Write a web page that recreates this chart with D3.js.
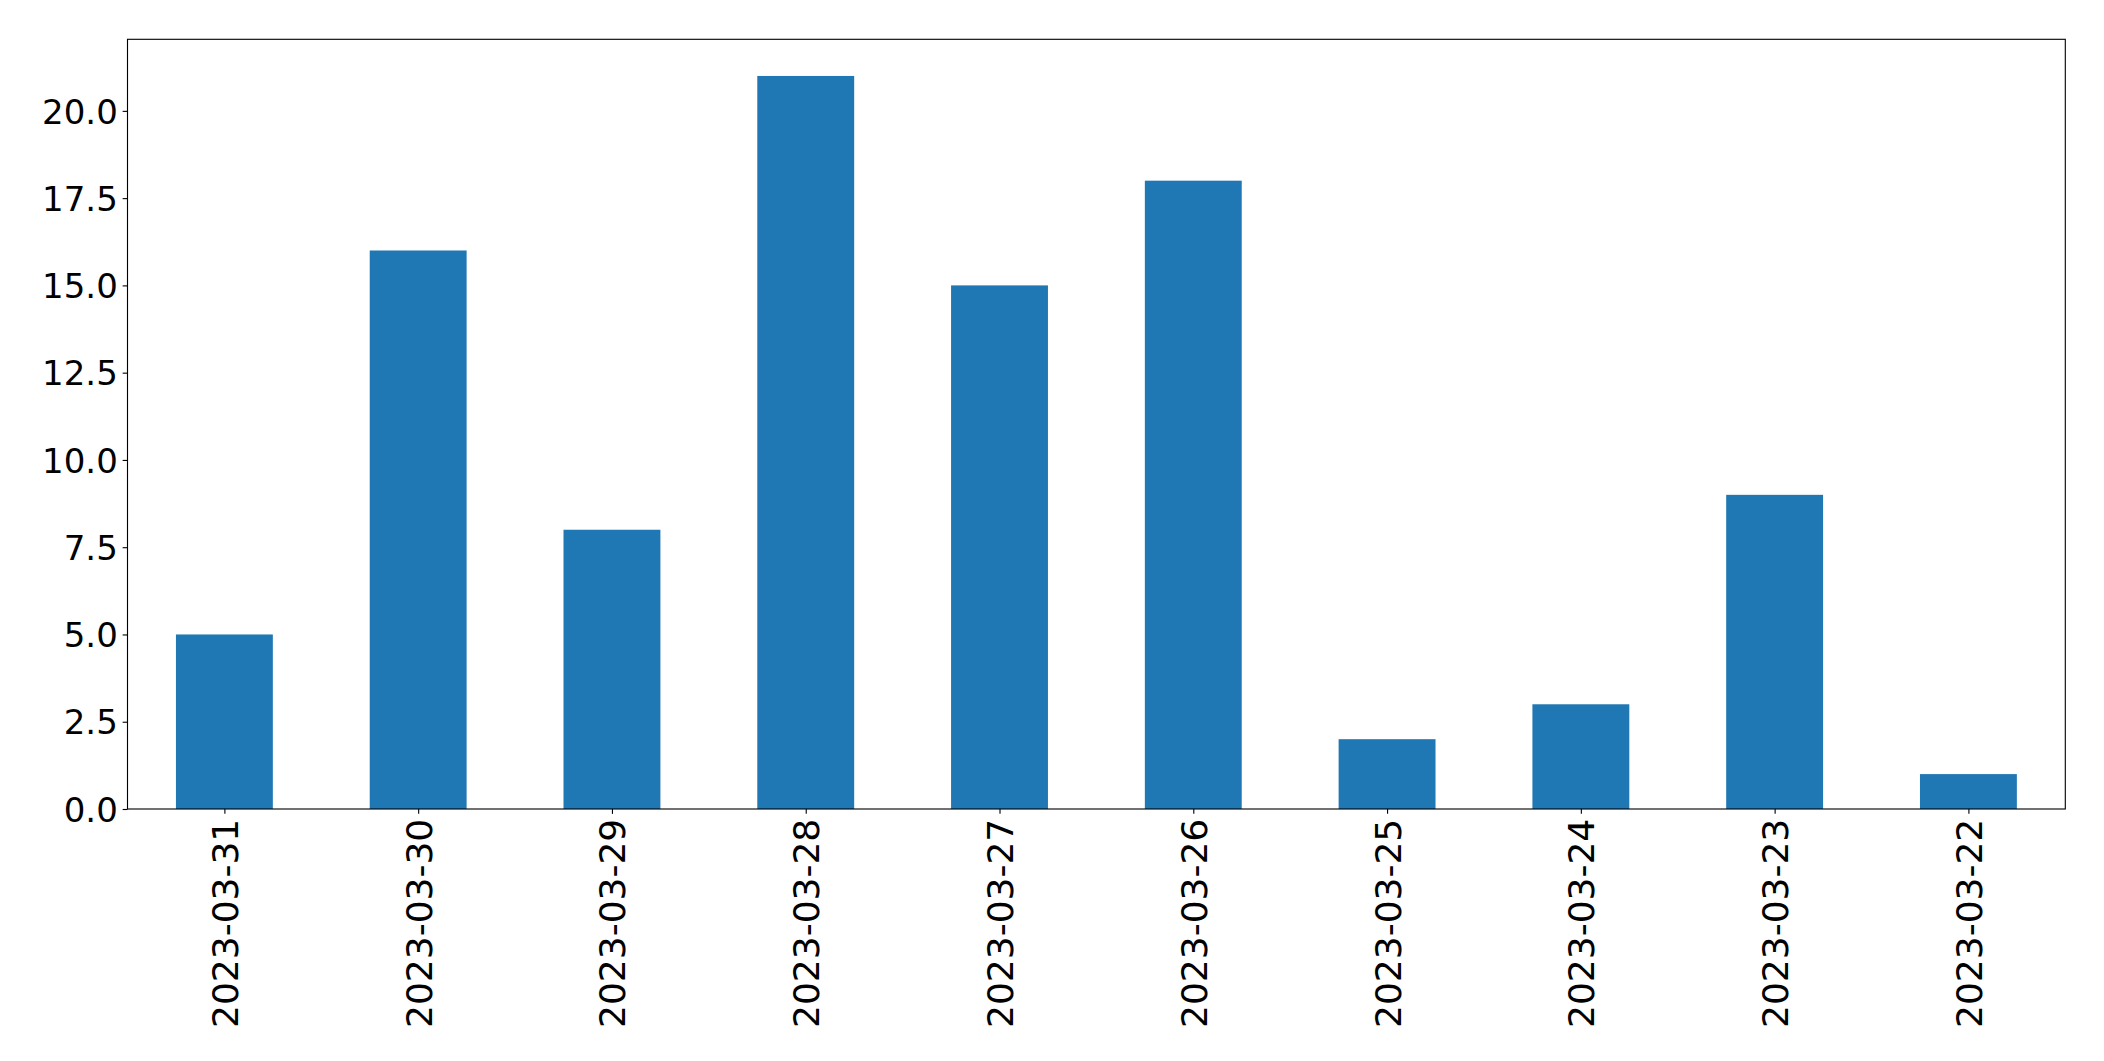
<!DOCTYPE html>
<html>
<head>
<meta charset="utf-8">
<script src="https://cdn.jsdelivr.net/npm/d3@7"></script>
<style>
  html, body { margin: 0; padding: 0; background: #fff; }
  svg { display: block; }
  text { font-family: "DejaVu Sans", sans-serif; fill: #000; }
</style>
</head>
<body>
<script>
const categories = ["2023-03-31","2023-03-30","2023-03-29","2023-03-28","2023-03-27","2023-03-26","2023-03-25","2023-03-24","2023-03-23","2023-03-22"];
const values = [5, 16, 8, 21, 15, 18, 2, 3, 9, 1];
const yTicks = [0, 2.5, 5, 7.5, 10, 12.5, 15, 17.5, 20];

(function () {
const W = 2104, H = 1061;
const mLeft = 127.5, mRight = 2065.3, mTop = 39.3, mBottom = 809;
const yFontPx = 34, xFontPx = 36, tickLen = 4.86, pad = 4.86;

const svg = d3.select("body").append("svg").attr("width", W).attr("height", H);

const x = d3.scaleLinear().domain([-0.5, categories.length - 0.5]).range([mLeft, mRight]);
const y = d3.scaleLinear().domain([0, d3.max(values) * 1.05]).range([mBottom, mTop]);

// bars
svg.append("g").selectAll("rect").data(values).join("rect")
  .attr("x", (d, i) => x(i - 0.25))
  .attr("width", (d, i) => x(i + 0.25) - x(i - 0.25))
  .attr("y", d => y(d))
  .attr("height", d => y(0) - y(d))
  .attr("fill", "#1f77b4");

// y axis
const yAxis = d3.axisLeft(y).tickValues(yTicks).tickFormat(d3.format(".1f"))
  .tickSize(tickLen).tickPadding(pad);
const gy = svg.append("g").attr("transform", `translate(${mLeft},0)`).call(yAxis);
gy.select(".domain").remove();
gy.selectAll(".tick line").attr("stroke", "#000").attr("stroke-width", 1.11);
gy.selectAll(".tick text").style("font-size", yFontPx + "px").attr("dy", "0.36em");

// x axis
const xAxis = d3.axisBottom(x).tickValues(d3.range(categories.length))
  .tickFormat(i => categories[i]).tickSize(tickLen).tickPadding(pad);
const gx = svg.append("g").attr("transform", `translate(0,${mBottom})`).call(xAxis);
gx.select(".domain").remove();
gx.selectAll(".tick line").attr("stroke", "#000").attr("stroke-width", 1.11);
gx.selectAll(".tick text")
  .style("font-size", xFontPx + "px")
  .attr("text-anchor", "end")
  .attr("dy", "0.36em")
  .attr("x", 0)
  .attr("y", 0)
  .attr("transform", `translate(0,${tickLen + pad}) rotate(-90)`);

// frame
svg.append("rect")
  .attr("x", mLeft).attr("y", mTop)
  .attr("width", mRight - mLeft).attr("height", mBottom - mTop)
  .attr("fill", "none").attr("stroke", "#000").attr("stroke-width", 1.11);
})();
</script>
</body>
</html>
